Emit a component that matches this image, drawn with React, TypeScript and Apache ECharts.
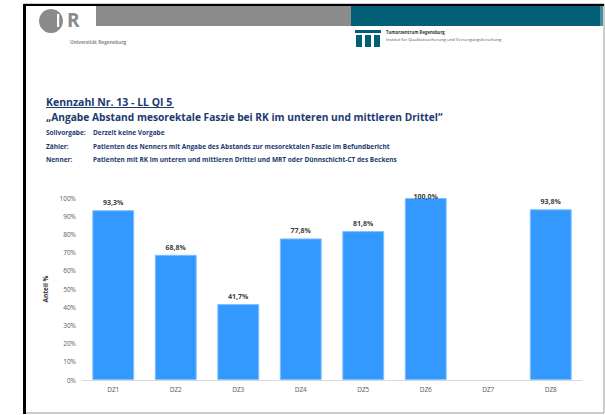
import React, { useEffect, useRef } from "react";
import * as echarts from "echarts";

const categories = ["DZ1", "DZ2", "DZ3", "DZ4", "DZ5", "DZ6", "DZ7", "DZ8"];
const values: (number | null)[] = [93.3, 68.8, 41.7, 77.8, 81.8, 100.0, null, 93.8];
const titleLine1 = "Kennzahl Nr. 13 - LL QI 5";
const titleLine2 = "\u201EAngabe Abstand mesorektale Faszie bei RK im unteren und mittleren Drittel\u201C";
const infoLabels = ["Sollvorgabe:", "Z\u00E4hler:", "Nenner:"];
const infoTexts = [
  "Derzeit keine Vorgabe",
  "Patienten des Nenners mit Angabe des Abstands zur mesorektalen Faszie im Befundbericht",
  "Patienten mit RK im unteren und mittleren Drittel und MRT oder D\u00FCnnschicht-CT des Beckens",
];
const yAxisName = "Anteil %";
const uniName = "Universit\u00E4t Regensburg";
const tzName = "Tumorzentrum Regensburg";
const tzSub = "Institut f\u00FCr Qualit\u00E4tssicherung und Versorgungsforschung";

const NAVY = "#1c3a6e";
const FONT = "Open Sans";

export default function App() {
  const ref = useRef<HTMLDivElement>(null);
  useEffect(() => {
    if (!ref.current) return;
    const chart = echarts.init(ref.current, null, { renderer: "svg" });
    const infoY = [132, 146, 159];
    const graphic: any[] = [
      // slide border
      { type: "rect", shape: { x: 24, y: 4, width: 580, height: 409 }, style: { fill: "#fff", stroke: "#999", lineWidth: 1 }, z: -10 },
      { type: "line", shape: { x1: 24.5, y1: 4, x2: 24.5, y2: 414 }, style: { stroke: "#000", lineWidth: 3 } },
      { type: "line", shape: { x1: 23, y1: 5, x2: 604, y2: 5 }, style: { stroke: "#000", lineWidth: 2 } },
      // header bands
      { type: "rect", shape: { x: 96, y: 6, width: 255, height: 20 }, style: { fill: "#8c8c8c" } },
      { type: "rect", shape: { x: 351, y: 6, width: 249, height: 20 }, style: { fill: "#035f75" } },
      { type: "rect", shape: { x: 600, y: 6, width: 3, height: 20 }, style: { fill: "#4f8a99" } },
      // UR logo
      { type: "circle", shape: { cx: 51, cy: 21, r: 12 }, style: { fill: "#8a8a8a" } },
      { type: "rect", shape: { x: 57, y: 14, width: 2.2, height: 13 }, style: { fill: "#fff" } },
      { type: "text", style: { text: "R", x: 67, y: 10, fill: "#8a8a8a", font: `bold 19px ${FONT}` } },
      { type: "text", style: { text: uniName, x: 70, y: 39, fill: "#8a8a8a", font: `bold 4.8px ${FONT}` } },
      // Tumorzentrum logo
      { type: "rect", shape: { x: 355, y: 30, width: 26, height: 3 }, style: { fill: "#035f75" } },
      { type: "rect", shape: { x: 356, y: 35, width: 6, height: 12 }, style: { fill: "#035f75" } },
      { type: "rect", shape: { x: 365, y: 35, width: 6, height: 12 }, style: { fill: "#035f75" } },
      { type: "rect", shape: { x: 374, y: 35, width: 6, height: 12 }, style: { fill: "#035f75" } },
      { type: "text", style: { text: tzName, x: 386, y: 30, fill: "#333", font: `bold 4.3px ${FONT}` } },
      { type: "text", style: { text: tzSub, x: 386, y: 36.5, fill: "#555", font: `4.3px ${FONT}` } },
      // titles
      { type: "text", style: { text: titleLine1, x: 46, y: 102, fill: NAVY, font: `bold 10.5px ${FONT}`, verticalAlign: "middle" } },
      { type: "line", shape: { x1: 46, y1: 107.5, x2: 174, y2: 107.5 }, style: { stroke: NAVY, lineWidth: 1 } },
      { type: "text", style: { text: titleLine2, x: 46, y: 117, fill: NAVY, font: `bold 10.2px ${FONT}`, verticalAlign: "middle" } },
    ];
    infoLabels.forEach((l, i) => {
      graphic.push({ type: "text", style: { text: l, x: 46, y: infoY[i], fill: NAVY, font: `bold 6.5px ${FONT}`, verticalAlign: "middle" } });
      graphic.push({ type: "text", style: { text: infoTexts[i], x: 93, y: infoY[i], fill: NAVY, font: `bold 6.5px ${FONT}`, verticalAlign: "middle" } });
    });

    chart.setOption({
      animation: false,
      textStyle: { fontFamily: FONT },
      graphic,
      grid: { left: 82, right: 23, top: 198, bottom: 35 },
      xAxis: {
        type: "category",
        data: categories,
        axisLine: { lineStyle: { color: "#d9d9d9", width: 1 } },
        axisTick: { show: false },
        axisLabel: { color: "#595959", fontSize: 6.5, margin: 6 },
      },
      yAxis: {
        type: "value",
        min: 0,
        max: 100,
        interval: 10,
        name: yAxisName,
        nameLocation: "middle",
        nameGap: 25,
        nameTextStyle: { color: "#333", fontSize: 6.5, fontWeight: "bold" },
        axisLine: { show: false },
        axisTick: { show: false },
        splitLine: { show: false },
        axisLabel: { color: "#595959", fontSize: 6.5, margin: 6, formatter: "{value}%" },
      },
      series: [
        {
          type: "bar",
          data: values.map((v) => (v !== null && v >= 100 ? { value: v, label: { distance: -2 } } : v)),
          barWidth: "67%",
          itemStyle: { color: "#3399ff", borderColor: "#80bfff", borderWidth: 1 },
          label: {
            show: true,
            position: "top",
            distance: 4,
            color: "#404040",
            fontSize: 7,
            fontWeight: "bold",
            formatter: (p: any) => p.value.toFixed(1).replace(".", ",") + "%",
          },
        },
      ],
    });
    return () => chart.dispose();
  }, []);
  return (
    <div
      ref={ref}
      style={{ position: "fixed", left: 0, top: 0, width: 605, height: 415, background: "#fff" }}
    />
  );
}
